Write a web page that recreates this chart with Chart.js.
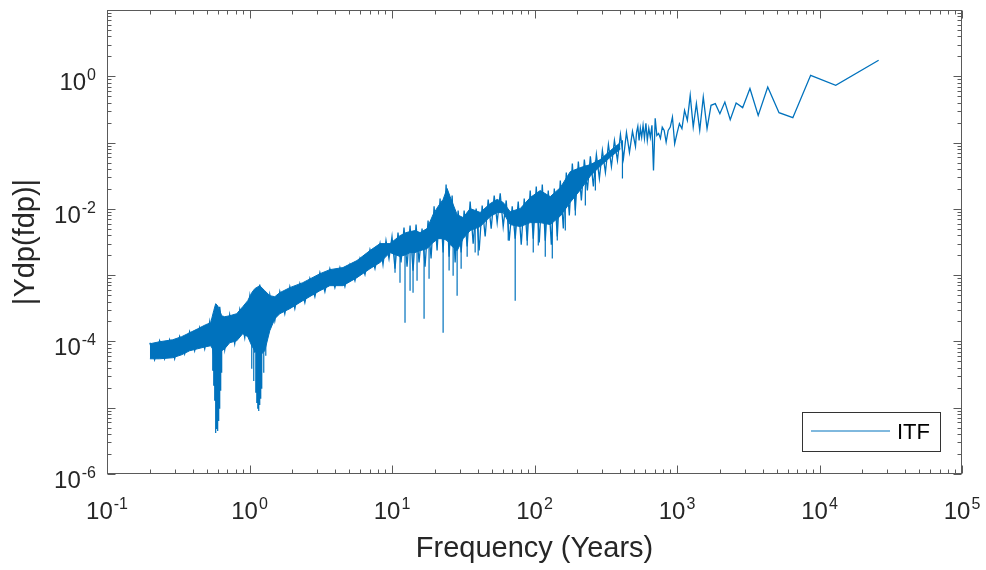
<!DOCTYPE html>
<html>
<head>
<meta charset="utf-8">
<script src="https://cdn.jsdelivr.net/npm/chart.js@4/dist/chart.umd.min.js"></script>
<style>
html,body{margin:0;padding:0;background:#ffffff;}
canvas{display:block;}
</style>
</head>
<body>
<canvas id="c" width="986" height="570"></canvas>
<script>
// ---- Dense part of the spectrum: solid core of the noisy band ----
const bandFreq = [0.2,0.234,0.289,0.334,0.38,0.433,0.493,0.534,0.561,0.579,
  0.598,0.638,0.67,0.726,0.813,0.897,0.972,1.037,1.089,1.18,
  1.28,1.388,1.505,1.632,1.919,2.366,3.119,3.664,4.524,5.675,
  7.004,8.24,9.68,11.38,12.55,13.39,14.51,15.74,17.62,19.41,
  21.06,22.84,24.36,25.57,28.64,31.56,35.35,41.56,48.87,54.7,
  60.3,67.5,79.4,93.3,109.6,129,151.7,178.4,209.7,246.6,
  289.8,340.9,400.9];
const bandHigh = [9.22e-5,9.89e-5,1.06e-4,1.18e-4,1.35e-4,1.55e-4,1.79e-4,1.91e-4,2.91e-4,3.71e-4,
  3.46e-4,2.44e-4,2.36e-4,2.44e-4,2.62e-4,3.34e-4,4.12e-4,5.44e-4,6.25e-4,6.94e-4,
  5.83e-4,4.90e-4,4.73e-4,5.44e-4,6.48e-4,7.70e-4,1.05e-3,1.21e-3,1.30e-3,1.66e-3,
  2.35e-3,2.99e-3,2.99e-3,3.94e-3,4.38e-3,4.54e-3,4.70e-3,4.38e-3,5.04e-3,8.18e-3,
  1.09e-2,1.39e-2,2.03e-2,1.53e-2,8.18e-3,7.38e-3,1.01e-2,8.83e-3,1.20e-2,1.39e-2,
  1.25e-2,9.07e-3,1.01e-2,1.48e-2,1.89e-2,1.53e-2,2.09e-2,3.65e-2,4.19e-2,4.66e-2,
  5.54e-2,7.57e-2,0.1];
const bandLow = [5.47e-5,5.47e-5,5.67e-5,6.29e-5,7.23e-5,7.75e-5,8.31e-5,8.60e-5,7.23e-5,5.10e-5,
  6.07e-5,7.23e-5,7.75e-5,9.55e-5,1.02e-4,1.31e-4,1.18e-4,8.60e-5,7.23e-5,6.07e-5,
  7.23e-5,1.45e-4,2.20e-4,2.62e-4,3.12e-4,4.12e-4,5.83e-4,6.94e-4,6.94e-4,9.17e-4,
  1.25e-3,1.55e-3,2.19e-3,1.91e-3,2.04e-3,2.19e-3,2.19e-3,2.34e-3,2.51e-3,3.10e-3,
  3.55e-3,3.55e-3,3.32e-3,2.89e-3,2.34e-3,3.55e-3,4.70e-3,5.40e-3,7.65e-3,8.78e-3,
  8.78e-3,5.79e-3,5.40e-3,6.20e-3,6.20e-3,5.79e-3,7.78e-3,1.26e-2,1.93e-2,3.13e-2,
  4.43e-2,6.05e-2,8.0e-2];

// ---- Consecutive samples tracing the ragged band edges ----
const zigFreq = [0.2,0.2158,0.234,0.2536,0.275,0.2983,0.3234,0.3506,0.38,0.4122,
  0.447,0.4848,0.5256,0.57,0.618,0.67,0.726,0.7876,0.8541,0.9262,
  1.004,1.089,1.18,1.28,1.388,1.505,1.632,1.769,1.919,2.08,
  2.256,2.446,2.652,2.876,3.119,3.381,3.664,3.974,4.31,4.673,
  5.067,5.495,5.959,6.461,7.004,7.595,8.24,
  8.646,9.076,9.526,10.0,10.5,11.02,11.57,12.14,12.75,13.39,
  14.05,14.75,15.48,16.25,17.06,17.91,18.8,19.74,20.72,21.75,
  22.84,23.97,25.16,26.42,27.73,29.11,30.56,32.08,33.68,35.35,
  37.11,38.96,40.89,42.93,45.07,47.31,49.66,52.14,54.7,57.45,
  60.3,63.31,66.45,69.76,73.2,76.88,80.71,84.72,88.9,93.3,
  98.0,102.9,108.0,113.4,119.0,124.9,131.2,137.7,144.5,151.7,
  159.3,167.2,175.5,184.3,193.4,203.1,213.2,223.8,235.0,246.6,
  258.9,271.8,285.3,299.5,314.5,330.1,346.6,363.8,382.0,400.9,
  421.0,441.9,463.9,487.0,511.3];
const zigAmp = [9.55e-5,5.28e-5,1.02e-4,5.47e-5,1.06e-4,5.47e-5,1.18e-4,6.51e-5,1.40e-4,7.23e-5,
  1.61e-4,7.75e-5,1.98e-4,4.29e-5,3.34e-4,7.48e-5,2.53e-4,9.22e-5,3.01e-4,1.14e-4,
  4.73e-4,6.74e-5,7.19e-4,8.60e-5,5.07e-4,2.05e-4,5.63e-4,2.62e-4,6.71e-4,3.12e-4,
  7.44e-4,3.84e-4,8.86e-4,4.73e-4,1.09e-3,5.63e-4,1.25e-3,6.48e-4,1.30e-3,6.71e-4,
  1.44e-3,8.26e-4,1.78e-3,1.02e-3,2.43e-3,1.25e-3,2.99e-3,
  1.44e-3,3.32e-3,1.78e-3,3.82e-3,1.25e-3,4.39e-3,1.55e-3,5.22e-3,1.34e-3,5.60e-3,
  1.17e-3,5.80e-3,1.55e-3,5.04e-3,1.34e-3,6.66e-3,1.78e-3,1.09e-2,2.35e-3,1.43e-2,
  2.19e-3,2.33e-2,1.90e-3,1.59e-2,1.55e-3,9.44e-3,2.19e-3,9.44e-3,2.70e-3,1.29e-2,
  2.99e-3,1.01e-2,2.35e-3,1.12e-2,3.82e-3,1.38e-2,5.04e-3,1.59e-2,6.22e-3,1.71e-2,
  5.41e-3,1.34e-2,3.32e-3,1.09e-2,3.56e-3,1.29e-2,2.89e-3,1.43e-2,3.32e-3,1.89e-2,
  3.56e-3,2.18e-2,3.10e-3,2.33e-2,3.32e-3,1.89e-2,2.89e-3,2.03e-2,3.82e-3,2.68e-2,
  5.04e-3,3.54e-2,7.93e-3,4.84e-2,9.44e-3,5.19e-2,1.34e-2,5.56e-2,1.89e-2,6.18e-2,
  2.18e-2,6.63e-2,2.87e-2,7.61e-2,3.54e-2,9.38e-2,4.36e-2,0.108,5.37e-2,0.133,
  5.76e-2,0.1425,7.10e-2,0.1475,8.75e-2];

// ---- Deep downward spikes (frequency, value where it leaves the band, lowest value) ----
const spikeFreq = [0.552,0.561,0.570,0.579,0.589,0.598,0.608,0.618,0.628,0.638,
  1.037,1.071,1.107,1.125,1.143,1.161,1.18,1.199,1.219,1.259,1.301,
  10.50,11.38,12.34,13.39,14.05,14.99,16.79,18.20,22.84,25.16,
  26.85,28.64,30.56,33.68,38.33,40.24,65.4,73.2,88.9,98.0,
  106.3,119.0,133.3,144.5,164.5,193.4,227.4,267.4,414.1];
const spikeHigh = [1.45e-4,1.45e-4,1.45e-4,1.45e-4,1.45e-4,1.45e-4,1.45e-4,1.45e-4,1.45e-4,1.45e-4,
  2.05e-4,2.05e-4,2.05e-4,2.05e-4,2.05e-4,2.05e-4,2.05e-4,2.05e-4,2.05e-4,2.05e-4,2.05e-4,
  2.79e-3,2.79e-3,2.79e-3,3.32e-3,3.32e-3,3.32e-3,3.32e-3,3.95e-3,7.93e-3,6.66e-3,
  6.66e-3,6.66e-3,6.66e-3,7.93e-3,7.93e-3,7.93e-3,7.93e-3,7.93e-3,9.44e-3,9.44e-3,
  9.44e-3,9.44e-3,9.44e-3,1.34e-2,1.89e-2,3.19e-2,4.52e-2,5.37e-2,0.108];
const spikeLow = [3.60e-5,2.14e-5,1.27e-5,4.17e-6,4.79e-6,4.47e-6,6.32e-6,9.61e-6,1.80e-5,3.36e-5,
  3.86e-5,2.54e-5,1.68e-5,1.18e-5,9.61e-6,8.96e-6,1.10e-5,1.36e-5,1.93e-5,3.36e-5,6.07e-5,
  1.09e-3,7.70e-4,1.91e-4,5.83e-4,5.44e-4,8.26e-4,2.20e-4,8.86e-4,1.35e-4,1.17e-3,
  9.83e-4,4.90e-4,1.25e-3,1.90e-3,2.19e-3,1.97e-3,3.32e-3,4.12e-4,2.79e-3,2.19e-3,
  2.79e-3,1.90e-3,1.78e-3,3.32e-3,4.71e-3,7.93e-3,1.12e-2,1.89e-2,2.87e-2];

// ---- Sparse long-period part: individual samples ----
const lineFreq = [520,531,542,553,565,578,591,605,619,634,
  650,667,684,703,722,743,765,788,813,839,
  867,897,929,963,1000,1040,1083,1130,1182,1238,
  1300,1368,1444,1529,1625,1733,1857,2000,2167,2364,
  2600,2889,3250,3714,4333,5200,6500,8667,13000,26000];
const lineAmp = [0.1425,0.1755,0.108,0.164,0.1197,0.1818,0.1156,0.1949,0.108,0.164,
  0.1197,0.1818,0.038,0.2318,0.1283,0.1376,0.1156,0.1713,0.1527,0.1016,
  0.1527,0.1713,0.2426,0.0961,0.1376,0.1928,0.162,0.3063,0.2163,0.516,
  0.1713,0.387,0.1527,0.4866,0.162,0.3645,0.387,0.273,0.409,0.2216,
  0.395,0.3365,0.652,0.2574,0.689,0.2828,0.2376,1.035,0.731,1.745];

// ---- Axes text ----
const xTickExps = ['-1','0','1','2','3','4','5'];
const yTickExps = ['-6','-4','-2','0'];
const xTitle = 'Frequency (Years)';
const yTitle = '|Ydp(fdp)|';
const seriesName = 'ITF';

const BLUE = '#0072BD';
const FONT = '"Liberation Sans", Arial, Helvetica, sans-serif';

const bandTopPts = bandFreq.map((f,i)=>({x:f,y:bandHigh[i]}));
const bandBotPts = bandFreq.map((f,i)=>({x:f,y:bandLow[i]}));
const spikePts = [];
spikeFreq.forEach((f,i)=>{
  spikePts.push({x:f,y:spikeHigh[i]},{x:f,y:spikeLow[i]},{x:f,y:null});
});
const tracePts = zigFreq.map((f,i)=>({x:f,y:zigAmp[i]}))
  .concat(lineFreq.map((f,i)=>({x:f,y:lineAmp[i]})));

const axesPlugin = {
  id:'matlabAxes',
  afterDatasetsDraw(chart){
    const {ctx, chartArea:a, scales:{x,y}} = chart;
    const L=a.left, R=a.right, T=a.top, B=a.bottom;
    ctx.save();
    ctx.strokeStyle='#5a5a5a'; ctx.lineWidth=1;
    ctx.strokeRect(L+0.5, T+0.5, R-L-1, B-T-1);
    ctx.beginPath();
    for(let e=-1;e<=5;e++){
      for(let m=1;m<=9;m++){
        if(e===5 && m>1) break;
        const v=m*Math.pow(10,e);
        const px=Math.round(x.getPixelForValue(v))+0.5;
        const len=(m===1)?8:4;
        ctx.moveTo(px,B-0.5); ctx.lineTo(px,B-0.5-len);
        ctx.moveTo(px,T+0.5); ctx.lineTo(px,T+0.5+len);
      }
    }
    for(let e=-6;e<=1;e++){
      for(let m=1;m<=9;m++){
        if(e===1 && m>1) break;
        const v=m*Math.pow(10,e);
        const py=Math.round(y.getPixelForValue(v))+0.5;
        const len=(m===1)?8:4;
        ctx.moveTo(L+0.5,py); ctx.lineTo(L+0.5+len,py);
        ctx.moveTo(R-0.5,py); ctx.lineTo(R-0.5-len,py);
      }
    }
    ctx.stroke();

    ctx.fillStyle='#262626';
    ctx.textBaseline='alphabetic';
    const big='24px '+FONT, small='16px '+FONT;
    xTickExps.forEach(ex=>{
      const px=x.getPixelForValue(Math.pow(10,Number(ex)));
      ctx.font=big; const w1=ctx.measureText('10').width;
      ctx.font=small; const w2=ctx.measureText(ex).width;
      const start=px-(w1+w2+1)/2;
      ctx.textAlign='left';
      ctx.font=big; ctx.fillText('10',start,B+45);
      ctx.font=small; ctx.fillText(ex,start+w1+1,B+35);
    });
    yTickExps.forEach(ex=>{
      const py=y.getPixelForValue(Math.pow(10,Number(ex)));
      ctx.font=small; const w2=ctx.measureText(ex).width;
      ctx.font=big; const w1=ctx.measureText('10').width;
      const right=L-11;
      ctx.textAlign='left';
      ctx.font=big; ctx.fillText('10',right-w2-1-w1,py+14);
      ctx.font=small; ctx.fillText(ex,right-w2,py+4);
    });

    ctx.font='29px '+FONT;
    ctx.textAlign='center';
    ctx.fillText(xTitle,(L+R)/2,557);
    ctx.save();
    ctx.translate(34,(T+B)/2);
    ctx.rotate(-Math.PI/2);
    ctx.fillText(yTitle,0,0);
    ctx.restore();

    ctx.fillStyle='#ffffff';
    ctx.fillRect(802,412,138,39);
    ctx.strokeStyle='#333333'; ctx.lineWidth=1;
    ctx.strokeRect(802.5,412.5,138,39);
    ctx.strokeStyle=BLUE; ctx.lineWidth=1;
    ctx.beginPath(); ctx.moveTo(811,431); ctx.lineTo(890,431); ctx.stroke();
    ctx.fillStyle='#000000';
    ctx.font='22px '+FONT; ctx.textAlign='left';
    ctx.fillText(seriesName,897,439);
    ctx.restore();
  }
};

new Chart(document.getElementById('c'),{
  type:'line',
  data:{datasets:[
    {label:'bandTop',data:bandTopPts,borderColor:BLUE,backgroundColor:BLUE,borderWidth:1,pointRadius:0,fill:'+1',tension:0},
    {label:'bandBottom',data:bandBotPts,borderColor:BLUE,backgroundColor:BLUE,borderWidth:1,pointRadius:0,fill:false,tension:0},
    {label:'spikes',data:spikePts,borderColor:BLUE,borderWidth:1.2,pointRadius:0,fill:false,spanGaps:false,tension:0},
    {label:seriesName,data:tracePts,borderColor:BLUE,borderWidth:1.3,pointRadius:0,fill:false,tension:0}
  ]},
  options:{
    responsive:false,
    animation:false,
    devicePixelRatio:1,
    layout:{padding:{left:107,right:24,top:10,bottom:96}},
    plugins:{legend:{display:false},tooltip:{enabled:false}},
    scales:{
      x:{type:'logarithmic',min:0.1,max:1e5,display:false},
      y:{type:'logarithmic',min:1e-6,max:10,display:false}
    }
  },
  plugins:[axesPlugin]
});
</script>
</body>
</html>
